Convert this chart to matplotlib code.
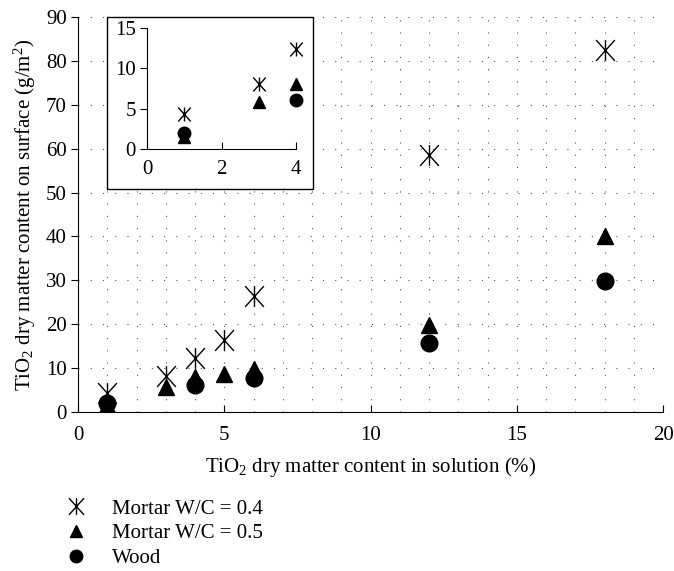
import matplotlib
matplotlib.use("Agg")
import matplotlib.pyplot as plt
from matplotlib.patches import Rectangle
from matplotlib.lines import Line2D
from matplotlib.path import Path
import numpy as np

plt.rcParams['font.family'] = ['Liberation Serif', 'DejaVu Serif']
plt.rcParams['mathtext.fontset'] = 'custom'
plt.rcParams['mathtext.rm'] = 'Liberation Serif'
plt.rcParams['mathtext.default'] = 'regular'
plt.rcParams['lines.scale_dashes'] = False

# Data
x_m04 = [1, 3, 4, 5, 6, 12, 18]
y_m04 = [4.3, 8.1, 12.4, 16.4, 26.5, 58.5, 82.5]
x_m05 = [1, 3, 4, 5, 6, 12, 18]
y_m05 = [1.5, 5.8, 8.0, 8.6, 9.8, 19.9, 40.0]
x_wood = [1, 4, 6, 12, 18]
y_wood = [2.0, 6.1, 7.7, 15.7, 29.8]
labels = ["Mortar W/C = 0.4", "Mortar W/C = 0.5", "Wood"]

# asterisk: X plus a vertical bar
star = Path([(-0.9, -1), (0.9, 1), (-0.9, 1), (0.9, -1), (0, -1), (0, 1)],
            [Path.MOVETO, Path.LINETO, Path.MOVETO, Path.LINETO, Path.MOVETO, Path.LINETO])
FS = 15

fig = plt.figure(figsize=(6.74, 5.71), dpi=100)
ax = fig.add_axes([78/674, 1-412/571, 585/674, 395/571])
ax.set_xlim(0, 20)
ax.set_ylim(0, 90)
ax.set_xticks(np.arange(0, 21, 5))
ax.set_xticks(np.arange(0, 21, 1), minor=True)
ax.set_yticks(np.arange(0, 91, 10))
for s in ['top', 'right']:
    ax.spines[s].set_visible(False)
ax.tick_params(axis='x', which='major', direction='in', length=5, labelsize=FS, pad=10)
ax.tick_params(axis='x', which='minor', length=0)
ax.tick_params(axis='y', direction='out', length=5, labelsize=FS, pad=3)
dots = (0, (0.8, 8.0))
ax.grid(axis='x', which='both', linestyle=dots, color='#555555', linewidth=0.8)
ax.grid(axis='y', which='major', linestyle=dots, color='#555555', linewidth=0.8)
ax.set_axisbelow(True)

ax.plot(x_m04, y_m04, linestyle='none', marker=star, markersize=15,
        markeredgewidth=1.0, color='black', label=labels[0])
ax.plot(x_m05, y_m05, linestyle='none', marker='^', markersize=12,
        color='black', label=labels[1])
ax.plot(x_wood, y_wood, linestyle='none', marker='o', markersize=12,
        color='black', label=labels[2])

ax.set_xlabel("TiO$_2$ dry matter content in solution (%)", fontsize=FS, labelpad=7)
ax.set_ylabel("TiO$_2$ dry matter content on surface (g/m$^2$)", fontsize=FS, labelpad=6)

# Inset frame
rect = Rectangle((107/674, 1-189/571), 206/674, 172/571, transform=fig.transFigure,
                 facecolor='white', edgecolor='black', linewidth=1.0, zorder=5)
fig.patches.append(rect)

ins = fig.add_axes([147/674, 1-149/571, 149/674, 121/571], zorder=10)
ins.patch.set_alpha(0)
ins.set_xlim(0, 4)
ins.set_ylim(0, 15)
ins.set_xticks([0, 2, 4])
ins.set_yticks([0, 5, 10, 15])
for s in ['top', 'right']:
    ins.spines[s].set_visible(False)
ins.tick_params(axis='x', direction='in', length=5, labelsize=FS, pad=8)
ins.tick_params(axis='y', direction='out', length=5, labelsize=FS, pad=3)

def sub(xs, ys):
    pts = [(a, b) for a, b in zip(xs, ys) if a <= 4]
    return [p[0] for p in pts], [p[1] for p in pts]

xi, yi = sub(x_m04, y_m04)
ins.plot(xi, yi, linestyle='none', marker=star, markersize=10, markeredgewidth=1.0,
         color='black', clip_on=False)
xi, yi = sub(x_m05, y_m05)
ins.plot(xi, yi, linestyle='none', marker='^', markersize=9, color='black', clip_on=False)
xi, yi = sub(x_wood, y_wood)
ins.plot(xi, yi, linestyle='none', marker='o', markersize=9, color='black', clip_on=False)

handles = [
    Line2D([], [], linestyle='none', marker=star, markersize=12, markeredgewidth=1.0, color='black'),
    Line2D([], [], linestyle='none', marker='^', markersize=9, color='black'),
    Line2D([], [], linestyle='none', marker='o', markersize=9, color='black'),
]
fig.legend(handles, labels, loc='upper left', bbox_to_anchor=(66/674, 1-499/571),
           frameon=False, fontsize=FS, handlelength=1.0, handletextpad=1.2,
           labelspacing=0.25, borderaxespad=0, borderpad=0)

fig.savefig("out.png", dpi=100)
